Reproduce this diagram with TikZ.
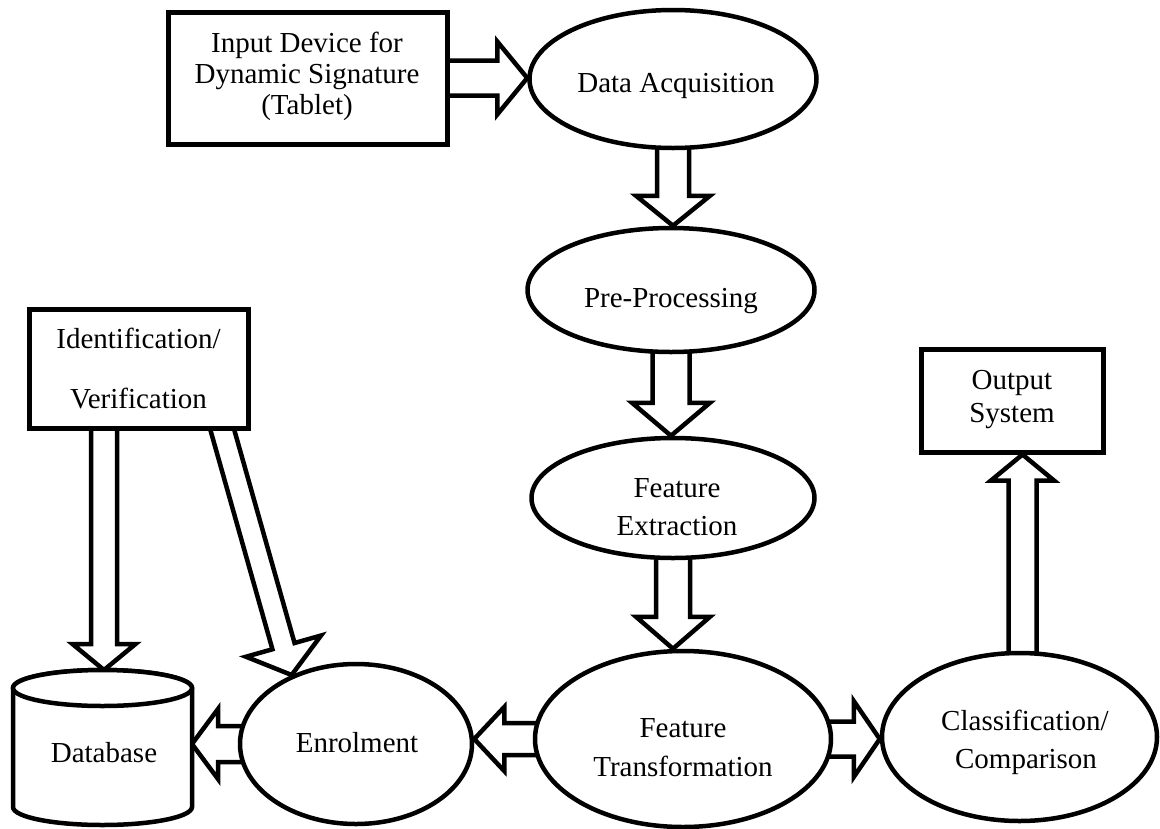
\documentclass[tikz,border=0pt]{standalone}
\usepackage{fontspec}
\setmainfont{Liberation Serif}
\usetikzlibrary{shapes.geometric,calc}
\pgfdeclarelayer{back}
\pgfsetlayers{back,main}

\tikzset{
  box/.style={draw, line width=5pt, fill=white, inner sep=0pt},
  oval/.style={ellipse, draw, line width=4.5pt, fill=white, inner sep=0pt},
  cyl/.style={draw, line width=4.5pt, fill=white},
  txt/.style={font=\fontsize{29}{31}\selectfont, inner sep=0pt, anchor=base},
  fat/.style={draw, line width=4.5pt, fill=white, line join=miter},
}

% hollow block arrow: #1 source, #2 tip, #3 shaft half width, #4 head half width, #5 head length
\newcommand\blockarrow[5]{%
  \coordinate (ba-s) at ($(#1)!-6pt!(#2)$);
  \coordinate (ba-h) at ($(#2)!#5!(#1)$);
  \draw[fat] ($(ba-s)!#3!90:(#2)$) -- ($(ba-h)!#3!90:(#2)$) -- ($(ba-h)!#4!90:(#2)$)
    -- (#2) -- ($(ba-h)!#4!-90:(#2)$) -- ($(ba-h)!#3!-90:(#2)$) -- ($(ba-s)!#3!-90:(#2)$);
}

\begin{document}
\begin{tikzpicture}[x=1pt, y=-1pt]
\useasboundingbox (0,0) rectangle (1160,828);

% blocks and ovals
\node[box, minimum width=279pt, minimum height=132pt] (dev) at (307.5,78) {};
\node[oval, minimum width=287pt, minimum height=138pt] (da) at (673,79) {};
\node[oval, minimum width=287pt, minimum height=124pt] (pp) at (671,290) {};
\node[oval, minimum width=283pt, minimum height=120pt] (fe) at (673,498) {};
\node[oval, minimum width=296pt, minimum height=176pt] (ft) at (683,739) {};
\node[oval, minimum width=232pt, minimum height=160pt] (en) at (356,744) {};
\node[oval, minimum width=275pt, minimum height=168pt] (cl) at (1019.5,737) {};
\node[box, minimum width=182pt, minimum height=103pt] (out) at (1012,400.5) {};
\node[box, minimum width=219pt, minimum height=119pt] (id) at (138.5,368.5) {};

% database cylinder
\draw[cyl] (13,688) -- (13,807) arc[start angle=180, end angle=0, x radius=89.5, y radius=18]
  -- (192,688) arc[start angle=0, end angle=-180, x radius=89.5, y radius=18] -- cycle;
\draw[cyl] (102.5,688) ellipse[x radius=89.5, y radius=18];
\coordinate (db-top) at (104,670);
\coordinate (db-side) at (192,744);

% labels
\node[txt] (dev-1) at (307,52) {Input Device for};
\node[txt] (dev-2) at (307,83) {Dynamic Signature};
\node[txt] (dev-3) at (307,114) {(Tablet)};
\node[txt] (da-1) at (676,92) {Data Acquisition};
\node[txt] (pp-1) at (671,307) {Pre-Processing};
\node[txt] (fe-1) at (677,497) {Feature};
\node[txt] (fe-2) at (677,535) {Extraction};
\node[txt] (ft-1) at (683,737) {Feature};
\node[txt] (ft-2) at (683,776) {Transformation};
\node[txt] (en-1) at (357,752) {Enrolment};
\node[txt] (cl-1) at (1025,730) {Classification/};
\node[txt] (cl-2) at (1026,768) {Comparison};
\node[txt] (out-1) at (1012,389) {Output};
\node[txt] (out-2) at (1012,422) {System};
\node[txt] (id-1) at (138.5,348) {Identification/};
\node[txt] (id-2) at (138.5,408) {Verification};
\node[txt] (db-1) at (104,762) {Database};

% connector end points
\coordinate (da-in) at (dev.east -| da.west);
\coordinate (pp-in) at (da.south |- pp.north);
\coordinate (fe-in) at (pp.south |- fe.north);
\coordinate (ft-in) at (fe.south |- ft.north);
\coordinate (en-in) at (ft.west -| en.east);
\coordinate (db-in) at (en.west -| db-side);
\coordinate (cl-in) at (ft.east -| cl.west);
\coordinate (cl-top) at ($(cl.north)+(3,0)$);
\coordinate (out-in) at (cl-top |- out.south);
\coordinate (id-foot) at (id.south -| db-top);
\coordinate (id-diag) at ($(id.south)+(84,0)$);

% flow arrows
\begin{pgfonlayer}{back}
  \blockarrow{dev.east}{da-in}{17.5pt}{36.5pt}{30pt}
  \blockarrow{da.south}{pp-in}{16pt}{37pt}{30pt}
  \blockarrow{pp.south}{fe-in}{18.5pt}{39pt}{33pt}
  \blockarrow{fe.south}{ft-in}{17pt}{37pt}{32pt}
  \blockarrow{ft.west}{en-in}{16pt}{32pt}{30pt}
  \blockarrow{en.west}{db-in}{18pt}{35pt}{26pt}
  \blockarrow{ft.east}{cl-in}{17.5pt}{38pt}{26pt}
  \blockarrow{cl-top}{out-in}{14pt}{31.5pt}{26pt}
  \blockarrow{id-foot}{db-top}{13pt}{31.5pt}{26pt}
  \blockarrow{id-diag}{en.133}{11.5pt}{39pt}{30pt}
\end{pgfonlayer}
\end{tikzpicture}
\end{document}
